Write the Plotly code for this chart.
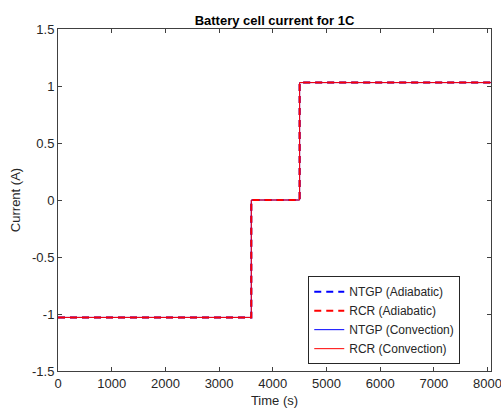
import plotly.graph_objects as go

time_s = [0, 3600, 4500, 8064]
current_a = [-1.03, 0, 1.03, 1.03]

series = [
    ("NTGP (Adiabatic)", "blue", "7px,5px", 2),
    ("RCR (Adiabatic)", "red", "7px,5px", 2),
    ("NTGP (Convection)", "blue", "solid", 1),
    ("RCR (Convection)", "red", "solid", 1),
]

xticks = [0, 1000, 2000, 3000, 4000, 5000, 6000, 7000, 8000]
yticks = [-1.5, -1, -0.5, 0, 0.5, 1, 1.5]
yticklabels = ["-1.5", "-1", "-0.5", "0", "0.5", "1", "1.5"]

fig = go.Figure()
# draw solid under dashed, keep legend order
order = [2, 3, 0, 1]
for i in order:
    name, color, dash, w = series[i]
    fig.add_trace(go.Scatter(
        x=time_s, y=current_a, mode="lines", name=name,
        line=dict(color=color, dash=dash, width=w, shape="hv"),
        legendrank=i + 1,
    ))

axis_color = "#262626"
fig.update_layout(
    width=501, height=414,
    margin=dict(l=58, r=10, t=29, b=43, autoexpand=False),
    paper_bgcolor="white", plot_bgcolor="white",
    font=dict(family="Liberation Sans, Arial, sans-serif", size=13, color=axis_color),
    title=dict(text="<b>Battery cell current for 1C</b>", x=0.5, xanchor="center",
               xref="paper", y=1, yref="paper", yanchor="bottom", pad=dict(b=4),
               font=dict(size=13, color="black")),
    showlegend=True,
    legend=dict(x=0.929, y=0.02, xanchor="right", yanchor="bottom",
                bgcolor="white", bordercolor="#262626", borderwidth=1,
                font=dict(size=12, color=axis_color), tracegroupgap=0,
                itemwidth=30),
)
fig.update_xaxes(
    range=[0, 8064], tickvals=xticks, ticks="inside", ticklen=4,
    showline=True, linecolor="#404040", linewidth=1, mirror="ticks",
    showgrid=False, zeroline=False, tickcolor="#404040",
    ticklabeloverflow="allow", automargin=False,
    title=dict(text="Time (s)", standoff=6, font=dict(size=13)),
)
fig.update_yaxes(
    range=[-1.5, 1.5], tickvals=yticks, ticktext=yticklabels, ticks="inside", ticklen=4,
    showline=True, linecolor="#404040", linewidth=1, mirror="ticks",
    showgrid=False, zeroline=False, tickcolor="#404040",
    ticklabeloverflow="allow", automargin=False,
    title=dict(text="Current (A)", standoff=8, font=dict(size=13)),
)
fig.write_html("out.html")
